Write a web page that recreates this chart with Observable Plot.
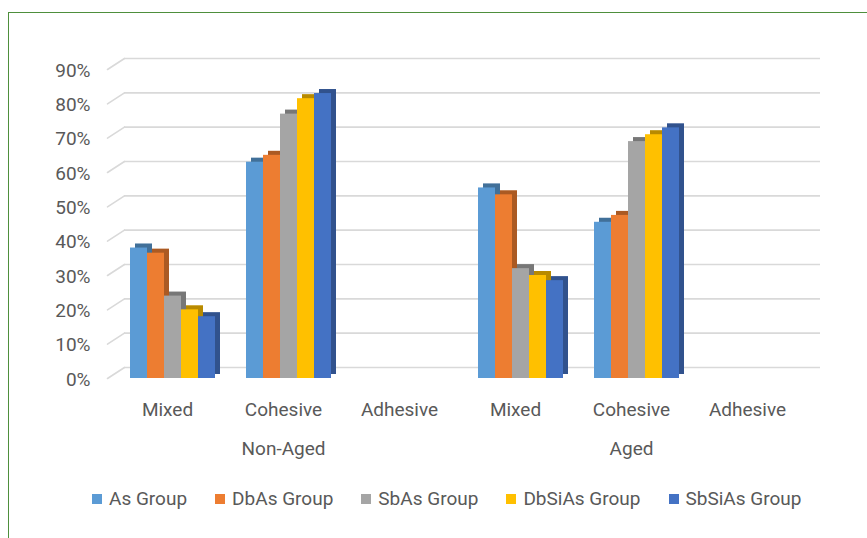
<!DOCTYPE html>
<html>
<head>
<meta charset="utf-8">
<script src="https://cdn.jsdelivr.net/npm/d3@7"></script>
<script src="https://cdn.jsdelivr.net/npm/@observablehq/plot@0.6"></script>
<style>
  html, body { margin: 0; padding: 0; background: #fff; width: 867px; height: 538px; overflow: hidden; position: relative; }
  #frame { position: absolute; left: 8px; top: 12px; width: 900px; height: 600px; border: 1.5px solid #4e8f3c; box-sizing: border-box; }
  #chart { position: absolute; left: 0; top: 0; }
  #legend { position: absolute; left: 92px; top: 487px; display: flex; gap: 28px; font-family: Roboto, sans-serif; font-size: 19px; color: #595959; white-space: nowrap; }
  #legend .item { display: flex; align-items: center; gap: 7px; }
  #legend .sw { width: 10px; height: 10px; display: inline-block; margin-top: 1px; }
</style>
</head>
<body>
<div id="frame"></div>
<div id="chart"></div>
<div id="legend"></div>
<script>
// ---- data ----
const groups = ["Non-Aged", "Aged"];
const categories = ["Mixed", "Cohesive", "Adhesive"];
const series = ["As Group", "DbAs Group", "SbAs Group", "DbSiAs Group", "SbSiAs Group"];
const nonAgedMixed    = [38, 36.5, 24, 20, 18];
const nonAgedCohesive = [63, 65, 77, 81.5, 83];
const nonAgedAdhesive = [0, 0, 0, 0, 0];
const agedMixed       = [55.5, 53.5, 32, 30, 28.5];
const agedCohesive    = [45.5, 47.5, 69, 71, 73];
const agedAdhesive    = [0, 0, 0, 0, 0];
const yTicks = [0, 10, 20, 30, 40, 50, 60, 70, 80, 90];
const yTickLabels = ["0%", "10%", "20%", "30%", "40%", "50%", "60%", "70%", "80%", "90%"];
const colors = ["#5B9BD5", "#ED7D31", "#A5A5A5", "#FFC000", "#4472C4"];

// ---- tables built from arrays ----
const valueSets = {
  "Non-Aged": {Mixed: nonAgedMixed, Cohesive: nonAgedCohesive, Adhesive: nonAgedAdhesive},
  "Aged": {Mixed: agedMixed, Cohesive: agedCohesive, Adhesive: agedAdhesive}
};
const keys = [];
const rows = [];
for (const g of groups) for (const c of categories) {
  const key = g + "|" + c;
  keys.push(key);
  valueSets[g][c].forEach((v, i) => rows.push({key, group: g, category: c, series: series[i], value: v}));
}
const bars = rows.filter(d => d.value > 0);
const grid = keys.flatMap(key => yTicks.map(t => ({key, t})));
const tickRows = yTicks.map((t, i) => ({t, label: yTickLabels[i]}));

const textColor = "#595959";
const fontSize = 19;

const plot = Plot.plot({
  width: 867,
  height: 470,
  marginLeft: 112,
  marginRight: 55,
  marginTop: 69,
  marginBottom: 92,
  style: {fontFamily: "Roboto, sans-serif", fontSize: fontSize + "px", color: textColor, background: "transparent"},
  fx: {domain: keys, padding: 0, label: null},
  x: {domain: series, paddingInner: 0, paddingOuter: 0.776, axis: null, label: null},
  y: {domain: [0, 90], axis: null, label: null},
  color: {domain: series, range: colors},
  marks: [
    // back wall gridlines
    Plot.ruleY(grid, {fx: "key", y: "t", stroke: "#d9d9d9", strokeWidth: 1.6, dx: 10, dy: -11}),
    // slanted side edges of gridlines
    Plot.vectorY(tickRows, {
      fx: () => keys[0], y: "t", frameAnchor: "left", dx: -7,
      length: 20.2, rotate: 57, anchor: "start", stroke: "#d9d9d9", strokeWidth: 1.6,
      shape: {draw(context, l) { context.moveTo(0, 0); context.lineTo(0, -l); }}
    }),
    // 3D depth (side + top) of bars
    Plot.barY(bars, {fx: "key", x: "series", y: "value", fill: "series", dx: 5, dy: -4}),
    Plot.barY(bars, {fx: "key", x: "series", y: "value", fill: "#000", fillOpacity: 0.28, dx: 5, dy: -4}),
    // front faces
    Plot.barY(bars, {fx: "key", x: "series", y: "value", fill: "series"}),
    // y tick labels
    Plot.text(tickRows, {fx: () => keys[0], y: "t", text: "label", frameAnchor: "left", textAnchor: "end",
      dx: -24, dy: 1, fontSize, fill: textColor}),
    // category labels
    Plot.axisFx({anchor: "bottom", tickSize: 0, tickPadding: 24, dx: -5, fontSize, fill: textColor, label: null,
      tickFormat: k => k.split("|")[1]}),
    // group labels
    Plot.text(groups, {fx: g => g + "|Cohesive", text: g => g, frameAnchor: "bottom", lineAnchor: "bottom",
      dy: 76, dx: -5, fontSize, fill: textColor})
  ]
});
document.getElementById("chart").appendChild(plot);

// legend
const legend = document.getElementById("legend");
series.forEach((s, i) => {
  const item = document.createElement("div");
  item.className = "item";
  item.innerHTML = `<span class="sw" style="background:${colors[i]}"></span><span>${s}</span>`;
  legend.appendChild(item);
});
</script>
</body>
</html>
